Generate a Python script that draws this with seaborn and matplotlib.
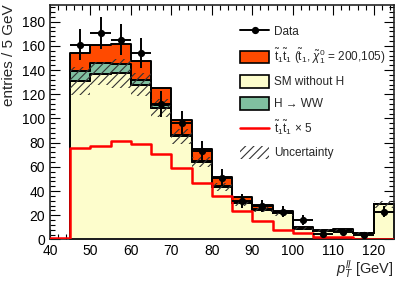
import numpy as np
import pandas as pd
import matplotlib
matplotlib.use("Agg")
import matplotlib.pyplot as plt
import seaborn as sns
from matplotlib.patches import Patch
from matplotlib.lines import Line2D
from matplotlib.ticker import MultipleLocator

# bins of 5 GeV from 45 to 125 (last one is the overflow bin)
bin_lo = [45, 50, 55, 60, 65, 70, 75, 80, 85, 90, 95, 100, 105, 110, 115, 120]
sm_noh = [131, 137, 137.5, 128, 108.3, 85.2, 64, 43.3, 30.1, 24.6, 21.6, 8.7, 7.2, 7.85, 5.4, 28.9]
hww = [8, 8.5, 7.5, 4, 2.8, 1.5, 1.0, 0.8, 0.5, 0.4, 0.3, 0.2, 0.1, 0.1, 0.1, 0.5]
unc = [11.5, 9.5, 12, 9.5, 7.5, 6, 4, 3.5, 2.5, 2, 2, 1.2, 1, 1, 0.8, 3]
data = [161, 170.5, 165, 154, 112, 96.5, 73, 51, 32, 27.5, 23, 16, 4.5, 6, 3.5, 23]
data_err = [12.7, 13, 12.8, 12.4, 10.6, 9.8, 8.5, 7.1, 5.7, 5.2, 4.8, 4, 2.1, 2.4, 1.9, 4.8]
# stop signal x 5, starting at the 40-45 bin
stop_lo = [40] + bin_lo
stop_x5 = [1.0, 75.5, 77, 81.6, 78.6, 70.5, 58.8, 47, 36, 23.5, 15.2, 7.8, 5.6, 2.3, 1.7, 0.6, 0.2]

W = 5
edges = bin_lo + [bin_lo[-1] + W]
centers = np.array(bin_lo) + W / 2
stop = np.array(stop_x5[1:]) / 5

C_STOP = "#ff4a00"
C_SM = "#fdfdcc"
C_HWW = "#80c0a0"

sns.set_style("ticks")
plt.rcParams["font.family"] = ["Liberation Sans", "DejaVu Sans"]
plt.rcParams["mathtext.fontset"] = "custom"
plt.rcParams["mathtext.rm"] = "Liberation Sans"
plt.rcParams["mathtext.it"] = "Liberation Sans:italic"
plt.rcParams["hatch.linewidth"] = 0.8

fig = plt.figure(figsize=(3.99, 2.81), dpi=100)
ax = fig.add_axes([0.1253, 0.148, 0.862, 0.835])

stack = pd.DataFrame({
    "x": np.concatenate([centers] * 3),
    "w": np.concatenate([stop, hww, sm_noh]),
    "comp": ["stop"] * 16 + ["hww"] * 16 + ["sm"] * 16,
})
sns.histplot(data=stack, x="x", weights="w", hue="comp",
             hue_order=["stop", "hww", "sm"], multiple="stack", bins=edges,
             element="step", palette=[C_STOP, C_HWW, C_SM], alpha=1,
             edgecolor="black", linewidth=1.4, legend=False, ax=ax)

# uncertainty band around the SM expectation
lo = np.array(sm_noh) - np.array(unc)
hi = np.array(sm_noh) + np.array(unc)
ax.fill_between(edges, np.append(lo, lo[-1]), np.append(hi, hi[-1]), step="post",
                facecolor="none", edgecolor="#333333", hatch="////", linewidth=0, zorder=3)

# signal x 5
sig = pd.DataFrame({"x": np.array(stop_lo) + W / 2, "w": stop_x5})
sns.histplot(data=sig, x="x", weights="w", bins=stop_lo + [125],
             element="step", fill=False, color="#ff0000", linewidth=1.8, ax=ax, zorder=4)

ax.errorbar(centers, data, xerr=W / 2, yerr=data_err, fmt="o", color="black",
            markersize=4.2, elinewidth=1.4, capsize=0, zorder=5)

ax.set_xlim(40, 125)
ax.set_ylim(0, 194)
ax.xaxis.set_major_locator(MultipleLocator(10))
ax.xaxis.set_minor_locator(MultipleLocator(2))
ax.yaxis.set_major_locator(MultipleLocator(20))
ax.yaxis.set_minor_locator(MultipleLocator(4))
ax.tick_params(which="both", direction="in", top=True, right=True, labelsize=10,
               width=0.8, colors="black")
ax.tick_params(which="major", length=7)
ax.tick_params(which="minor", length=3.5)
ax.tick_params(axis="x", pad=3.5)
for s in ax.spines.values():
    s.set_linewidth(1.2)

ax.set_xlabel(r"$p_T^{ll}$ [GeV]", loc="right", fontsize=10.5, labelpad=0)
ax.set_ylabel("entries / 5 GeV", loc="top", fontsize=11, labelpad=4)

handles = [
    Line2D([0], [0], color="black", marker="o", markersize=4.2, linewidth=1.4),
    Patch(facecolor=C_STOP, edgecolor="black", linewidth=1.2),
    Patch(facecolor=C_SM, edgecolor="black", linewidth=1.2),
    Patch(facecolor=C_HWW, edgecolor="black", linewidth=1.2),
    Line2D([0], [0], color="#ff0000", linewidth=1.8),
    Patch(facecolor="none", edgecolor="#333333", hatch="////", linewidth=0),
]
labels = [
    "Data",
    r"$\mathrm{\tilde{t}_1\tilde{t}_1}$ ($\mathrm{\tilde{t}_1}$, $\tilde{\chi}^0_1$ = 200,105)",
    "SM without H",
    "H → WW",
    r"$\mathrm{\tilde{t}_1\tilde{t}_1}$ × 5",
    "Uncertainty",
]
ax.legend(handles, labels, loc="upper left", bbox_to_anchor=(0.54, 0.935),
          frameon=False, fontsize=8.5, handlelength=2.4, handleheight=1.3,
          labelspacing=0.72, handletextpad=0.45, borderaxespad=0)

fig.savefig("out.png", dpi=100)
